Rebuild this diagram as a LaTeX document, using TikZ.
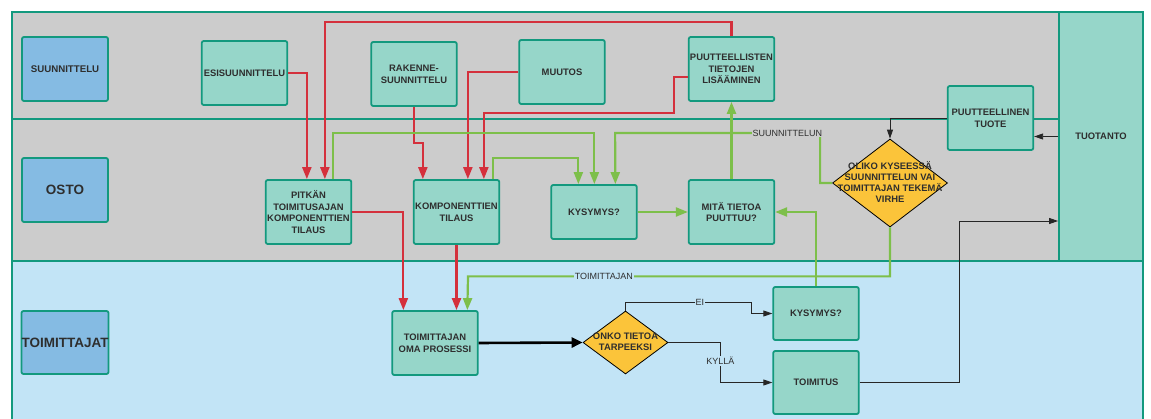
\documentclass[tikz,border=0pt]{standalone}
\usepackage{fontspec}
\setmainfont{Liberation Sans}
\usetikzlibrary{arrows.meta,shapes.geometric,calc}
\definecolor{lanegray}{HTML}{CCCCCC}
\definecolor{laneblue}{HTML}{C2E4F6}
\definecolor{tealfill}{HTML}{96D6C9}
\definecolor{tealline}{HTML}{13997E}
\definecolor{hdrblue}{HTML}{85BBE3}
\definecolor{diayel}{HTML}{FBC43A}
\definecolor{redc}{HTML}{D4303C}
\definecolor{greenc}{HTML}{7DBF4A}
\definecolor{txt}{HTML}{2E2E2E}
\begin{document}
\begin{tikzpicture}[x=1pt,y=-1pt,
  lane/.style={draw=tealline, line width=1.8pt},
  hdr/.style={draw=tealline, fill=hdrblue, line width=1.8pt, rounded corners=2pt,
    minimum width=86pt, minimum height=64pt, inner sep=0pt, text=txt, align=center},
  task/.style={draw=tealline, fill=tealfill, line width=1.8pt, rounded corners=2pt,
    minimum width=85.5pt, minimum height=64pt, inner sep=0pt, text=txt, align=center,
    font=\bfseries\fontsize{9.4}{11.7}\selectfont},
  dia/.style={shape=diamond, draw=black, line width=0.8pt, fill=diayel, inner sep=0pt},
  diatext/.style={text=txt, align=center, inner sep=0pt, font=\bfseries\fontsize{9.4}{11.3}\selectfont},
  redl/.style={draw=redc, line width=2.2pt, -{Triangle[length=12pt,width=9pt]}},
  greenl/.style={draw=greenc, line width=2.2pt, -{Triangle[length=12pt,width=9pt]}},
  blk/.style={draw=black!85, line width=0.9pt, -{Triangle[length=9pt,width=6pt]}},
  blkthick/.style={draw=black, line width=2.6pt, -{Triangle[length=11pt,width=10pt]}},
  lbl/.style={font=\fontsize{9}{10}\selectfont, text=txt, inner sep=1pt, fill=#1}
]
\useasboundingbox (0,0) rectangle (1151,419);
% lanes
\fill[lanegray] (12,12) rectangle (1059,261);
\fill[laneblue] (12,261) rectangle (1143,430);
\draw[lane] (12,430) -- (12,12) -- (1143,12) -- (1143,430);
\draw[lane] (12,119) -- (1059,119);
\draw[lane] (12,261) -- (1143,261);
\node[draw=tealline, fill=tealfill, line width=1.8pt, minimum width=84pt, minimum height=249pt,
  inner sep=0pt, text=txt, font=\bfseries\fontsize{9.4}{11}\selectfont] (tuo) at (1101,136.5) {TUOTANTO};

% lane headers
\node[hdr, font=\bfseries\fontsize{9.7}{11}\selectfont] (sun) at (65,69) {SUUNNITTELU};
\node[hdr, font=\bfseries\fontsize{13.5}{15}\selectfont] (ost) at (65,190) {OSTO};
\node[hdr, minimum height=63pt, font=\bfseries\fontsize{13.5}{15}\selectfont] (tmj) at (65,342.5) {TOIMITTAJAT};

% tasks
\node[task] (esi) at (244.5,73) {ESISUUNNITTELU};
\node[task] (rak) at (414,74) {RAKENNE-\\SUUNNITTELU};
\node[task] (muu) at (562,72) {MUUTOS};
\node[task] (puu) at (731.5,69) {PUUTTEELLISTEN\\TIETOJEN\\LISÄÄMINEN};
\node[task] (ptu) at (990.5,118) {PUUTTEELLINEN\\TUOTE};
\node[task] (pit) at (308.5,212) {PITKÄN\\TOIMITUSAJAN\\KOMPONENTTIEN\\TILAUS};
\node[task] (kom) at (456.5,212) {KOMPONENTTIEN\\TILAUS};
\node[task, minimum height=54pt] (kys1) at (594,212) {KYSYMYS?};
\node[task] (mit) at (731.5,212) {MITÄ TIETOA\\PUUTTUU?};
\node[task] (toi) at (435,343) {TOIMITTAJAN\\OMA PROSESSI};
\node[task, minimum height=53pt] (kys2) at (816,313.5) {KYSYMYS?};
\node[task, minimum height=63pt] (tmi) at (816,382.5) {TOIMITUS};

% diamonds
\node[dia, minimum width=115pt, minimum height=88pt] (dia1) at (890,183) {};
\node[diatext] (dia1t) at (890,182) {OLIKO KYSEESSÄ\\SUUNNITTELUN VAI\\TOIMITTAJAN TEKEMÄ\\VIRHE};
\node[dia, minimum width=85pt, minimum height=63pt] (dia2) at (625.5,342.5) {};
\node[diatext] (dia2t) at (625.5,341.5) {ONKO TIETOA\\TARPEEKSI};

% red connectors
\draw[redl] (esi.east) -| ([xshift=42pt]pit.north west);
\draw[redl] (puu.north) -- ++(0,-14) -| ([xshift=60pt]pit.north west);
\draw[redl] (rak.south) -- ++(0,36) -| ([xshift=10pt]kom.north west);
\draw[redl] (muu.west) -| ([xshift=55pt]kom.north west);
\draw[redl] ([yshift=-8pt]puu.west) -- ++(-14,0) -- ++(0,36) -| ([xshift=71pt]kom.north west);
\draw[redl] (pit.east) -| ([xshift=12pt]toi.north west);
\draw[redl] (kom.south) -- (kom.south |- toi.north);

% green connectors
\draw[greenl] ([xshift=68pt]pit.north west) -- ++(0,-46) -| ([xshift=44pt]kys1.north west);
\draw[greenl] ([xshift=80pt]kom.north west) -- ++(0,-21) -| ([xshift=28pt]kys1.north west);
\draw[greenl] (dia1.west) -- ++(-12,0) -- ++(0,-50)
  -- node[pos=0.16, lbl=lanegray] (lsu) {SUUNNITTELUN} ++(-205,0) -- ([xshift=65pt]kys1.north west);
\draw[greenl] (kys1.east) -- (mit.west);
\draw[greenl] (mit.north) -- (puu.south);
\draw[greenl] (kys2.north) |- (mit.east);
\draw[greenl] (dia1.south) -- ++(0,49)
  -- node[pos=0.678, lbl=laneblue] (lto) {TOIMITTAJAN} ++(-422,0) -- ([xshift=76pt]toi.north west);

% black connectors
\draw[blkthick] (toi.east) -- (dia2.west);
\draw[blk] (dia2.north) -- ++(0,-8) -- node[pos=0.59, lbl=laneblue] (lei) {EI} ++(126,0) |- (kys2.west);
\draw[blk] (dia2.east) -- ++(52,0) |- node[pos=0.23, lbl=laneblue] (lky) {KYLLÄ} (tmi.west);
\draw[blk] (tmi.east) -- ++(100,0) |- ([yshift=-84.5pt]tuo.west);
\draw[blk] (tuo.west) -- (tuo.west -| ptu.east);
\draw[blk] (ptu.west) -| (dia1.north);
\end{tikzpicture}
\end{document}
